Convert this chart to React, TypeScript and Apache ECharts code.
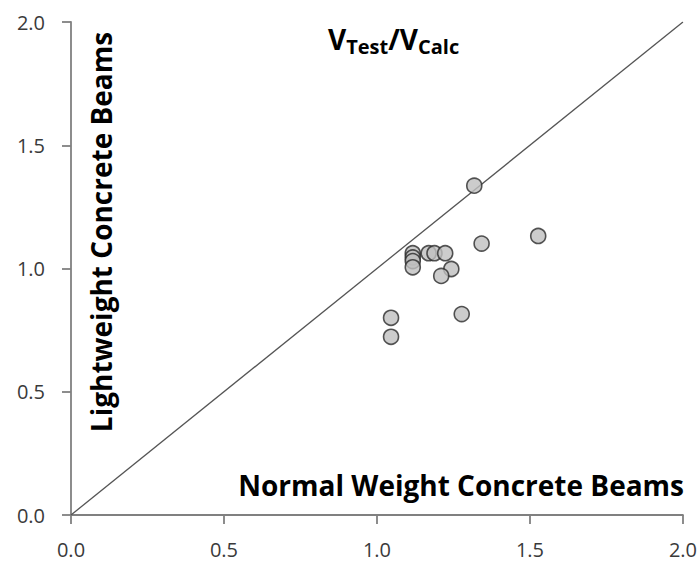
import React, { useEffect, useRef } from "react";
import * as echarts from "echarts";

const normalWeight = [1.318, 1.527, 1.342, 1.117, 1.117, 1.117, 1.117, 1.169, 1.188, 1.223, 1.243, 1.21, 1.277, 1.046, 1.046];
const lightWeight = [1.336, 1.132, 1.101, 1.062, 1.045, 1.03, 1.005, 1.062, 1.062, 1.062, 0.998, 0.97, 0.815, 0.8, 0.723];
const equalityLine = [[0, 0], [2, 2]];

export default function App() {
  const ref = useRef<HTMLDivElement>(null);
  useEffect(() => {
    if (!ref.current) return;
    const chart = echarts.init(ref.current, null, { renderer: "svg" });
    const font = "Open Sans";
    const axisCommon = {
      type: "value",
      min: 0,
      max: 2,
      interval: 0.5,
      splitLine: { show: false },
      axisLine: { show: true, lineStyle: { color: "#808080", width: 1.8 } },
      axisTick: { show: true, inside: false, length: 9, lineStyle: { color: "#808080", width: 1.8 } },
      axisLabel: {
        color: "#3a3a3a",
        fontSize: 20,
        fontFamily: font,
        formatter: (v: number) => v.toFixed(1),
      },
    };
    chart.setOption({
      animation: false,
      grid: { left: 71, right: 16, top: 22, bottom: 50 },
      xAxis: { ...axisCommon, axisLabel: { ...axisCommon.axisLabel, margin: 24 } },
      yAxis: { ...axisCommon, axisLabel: { ...axisCommon.axisLabel, margin: 26 } },
      series: [
        {
          type: "line",
          data: equalityLine,
          showSymbol: false,
          lineStyle: { color: "#555", width: 1.3 },
          z: 1,
        },
        {
          type: "scatter",
          data: normalWeight.map((x, i) => [x, lightWeight[i]]),
          symbolSize: 15,
          itemStyle: { color: "#bfbfbf", borderColor: "#2a2a2a", borderWidth: 1.6 },
          z: 3,
        },
      ],
      graphic: [
        {
          type: "text",
          left: 328,
          top: 25,
          style: {
            text: "{v|V}{s|Test}{v|/V}{s|Calc}",
            rich: {
              v: { fontSize: 28, fontWeight: "bold", fontFamily: font, fill: "#000" },
              s: { fontSize: 20, fontWeight: "bold", fontFamily: font, fill: "#000", padding: [14, 0, 0, 0] },
            },
          },
        },
        {
          type: "text",
          x: 101,
          y: 232,
          rotation: Math.PI / 2,
          style: {
            text: "Lightweight Concrete Beams",
            fontSize: 28,
            fontWeight: "bold",
            fontFamily: font,
            fill: "#000",
            align: "center",
            verticalAlign: "middle",
          },
        },
        {
          type: "text",
          x: 684,
          y: 485,
          style: {
            text: "Normal Weight Concrete Beams",
            fontSize: 28,
            fontWeight: "bold",
            fontFamily: font,
            fill: "#000",
            align: "right",
            verticalAlign: "middle",
          },
        },
      ],
    });
    return () => chart.dispose();
  }, []);
  return (
    <div
      ref={ref}
      style={{ position: "fixed", left: 0, top: 0, width: 700, height: 565, background: "#fff" }}
    />
  );
}
